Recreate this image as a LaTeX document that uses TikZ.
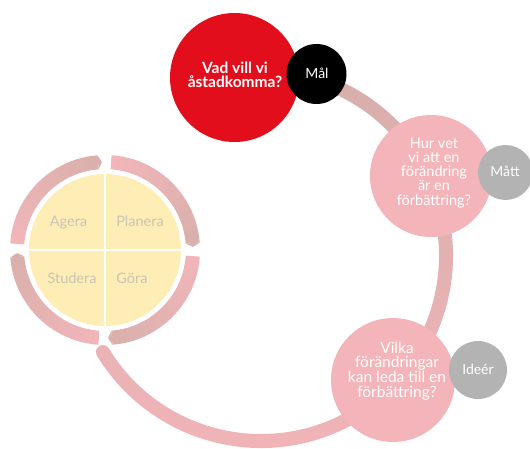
\documentclass[tikz,border=0pt]{standalone}
\usepackage{fontspec}
\setmainfont{Lato}
\definecolor{arcdusty}{HTML}{D6AFAC}
\definecolor{arcpink}{HTML}{F2B4B8}
\definecolor{ringdusty}{HTML}{D9B0AC}
\definecolor{ringpink}{HTML}{F2B5B9}
\definecolor{redc}{HTML}{E30E1B}
\definecolor{pinkc}{HTML}{F3B5B9}
\definecolor{greyc}{HTML}{B3B3B3}
\definecolor{yellowc}{HTML}{FEEDB4}
\definecolor{pdsatext}{HTML}{C9C4B5}
\begin{document}
\begin{tikzpicture}[x=1pt,y=1pt,
  bubble/.style={circle,inner sep=0pt,minimum size=#1},
  lbl/.style={text=white,align=center,inner sep=0pt,font=\fontsize{14.5}{14.1}\selectfont},
  tag/.style={text=white,inner sep=0pt,font=\fontsize{14}{14}\selectfont},
  pdsalbl/.style={text=pdsatext,inner sep=0pt,anchor=base,font=\fontsize{14.5}{15}\selectfont}]
\useasboundingbox (0,0) rectangle (530,448);

% big arc
\begin{scope}[shift={(261,192)}]
\shade[top color=arcdusty,bottom color=arcpink]
  (73:192) arc[start angle=73,end angle=-148.7,radius=192]
  arc[start angle=-148.7,end angle=-328.7,radius=7]
  arc[start angle=-148.7,end angle=73,radius=178] -- cycle;
\end{scope}

% PDSA ring
\begin{scope}[shift={(105,198)}]
\foreach \s/\e in {176/92,86/2,-4/-88,-94/-178}{
  \pgfmathsetmacro\et{\e+2.5}
  \foreach \i in {0,...,23}{
    \pgfmathsetmacro\aa{\s+(\et-\s)*\i/24}
    \pgfmathsetmacro\ab{\s+(\et-\s)*(\i+1)/24-0.6*(\i<23)}
    \pgfmathtruncatemacro\pc{100-100*\i/23}
    \fill[ringpink!\pc!ringdusty] (\aa:81) arc[start angle=\aa,end angle=\ab,radius=81]
      -- (\ab:95) arc[start angle=\ab,end angle=\aa,radius=95] -- cycle;
  }
  \fill[ringdusty] (\et:81) -- (\e:88) -- (\et:95) -- cycle;
}
\end{scope}

\node[bubble=152,fill=yellowc] (pdsa) at (105,198) {};
\draw[white,line width=2.5] (pdsa.north) -- (pdsa.south);
\draw[white,line width=2.5] (pdsa.west) -- (pdsa.east);
\node[pdsalbl] (agera) at (68.5,222) {Agera};
\node[pdsalbl] (planera) at (140,222) {Planera};
\node[pdsalbl] (studera) at (72,165) {Studera};
\node[pdsalbl] (gora) at (132,165) {Göra};

% circles
\node[bubble=129,fill=redc] (goal) at (234.5,370.5) {};
\node[bubble=60,fill=black] (mal) at (316.5,374) {};
\node[bubble=122,fill=pinkc] (hur) at (431,272) {};
\node[bubble=55,fill=greyc] (matt) at (505.5,275.5) {};
\node[bubble=124,fill=pinkc] (vilka) at (393,68) {};
\node[bubble=58,fill=greyc] (idea) at (478,78) {};

\node[lbl,font=\fontsize{15.5}{14.3}\selectfont\bfseries] (goal-t) at (235,373) {Vad vill vi\\åstadkomma?};
\node[lbl] (hur-t) at (434,275) {Hur vet\\vi att en\\förändring\\är en\\förbättring?};
\node[lbl,font=\fontsize{15.5}{14.2}\selectfont] (vilka-t) at (397,77) {Vilka\\förändringar\\kan leda till en\\förbättring?};
\node[tag] (mal-t) at (317,375) {Mål};
\node[tag] (matt-t) at (505,277) {Mått};
\node[tag] (idea-t) at (478,79) {Ideér};
\end{tikzpicture}
\end{document}
